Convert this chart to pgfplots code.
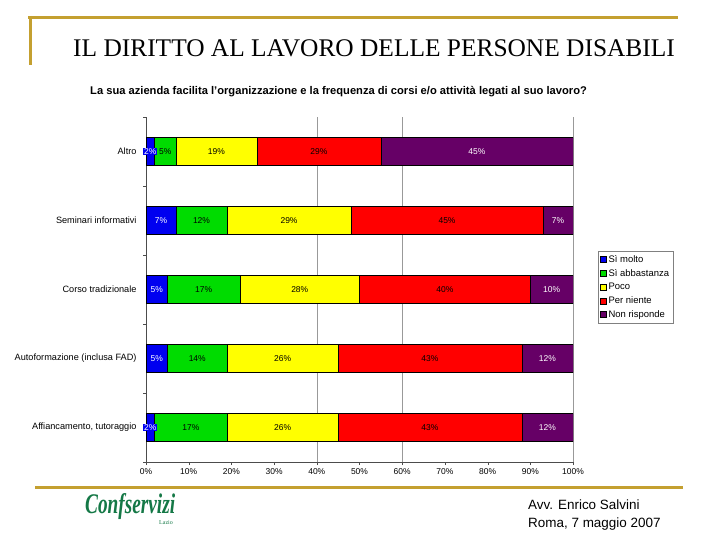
\documentclass[border=0pt]{standalone}
\usepackage{pgfplots}
\pgfplotsset{compat=1.18}
\usepackage{fontspec}
\setmainfont{Liberation Sans}
\newfontfamily\serifont{Liberation Serif}
\definecolor{gold}{RGB}{196,160,48}
\definecolor{cblue}{RGB}{0,0,240}
\definecolor{cgreen}{RGB}{0,220,0}
\definecolor{cyellow}{RGB}{255,255,0}
\definecolor{cred}{RGB}{255,0,0}
\definecolor{cpurple}{RGB}{102,0,102}
\definecolor{logogreen}{RGB}{20,120,70}
\begin{document}
\begin{tikzpicture}[x=1bp,y=1bp]
\path (0,0) rectangle (720,-540);
\draw[gold, line width=3bp] (28,-17.5) -- (678,-17.5);
\draw[gold, line width=3bp] (30,-16) -- (30,-65);
\draw[gold, line width=3bp] (35,-487) -- (683,-487);
\node[font=\serifont\fontsize{25.5}{30}\selectfont, anchor=base west, inner sep=0] at (73,-57) {IL DIRITTO AL LAVORO DELLE PERSONE DISABILI};
\node[font=\bfseries\fontsize{11.2}{13}\selectfont, anchor=base west, inner sep=0] at (90,-95) {La sua azienda facilita l'organizzazione e la frequenza di corsi e/o attività legati al suo lavoro?};
\node[font=\fontsize{13.5}{16}\selectfont, anchor=base west, inner sep=0] at (528,-509) {Avv. Enrico Salvini};
\node[font=\fontsize{13.5}{16}\selectfont, anchor=base west, inner sep=0] at (528,-527) {Roma, 7 maggio 2007};
\node[anchor=west, inner sep=0, text=logogreen] at (85,-507) {\resizebox{90bp}{20bp}{\serifont\bfseries\itshape Confservizi}};
\node[anchor=base, inner sep=0, text=logogreen, font=\serifont\fontsize{6}{7}\selectfont] at (166,-524) {Lazio};
\begin{axis}[
  at={(146bp,-462bp)}, anchor=south west,
  scale only axis, width=427bp, height=345bp,
  xbar stacked, bar width=28bp,
  xmin=0, xmax=100, ymin=-0.5, ymax=4.5,
  /pgf/number format/assume math mode=true,
  xtick={0,10,...,100},
  xticklabel={\pgfmathprintnumber{\tick}\%},
  xticklabel style={font=\fontsize{8.5}{10}\selectfont},
  ytick={-0.5,0.5,1.5,2.5,3.5,4.5},
  yticklabels={},
  extra y ticks={0,1,2,3,4},
  extra y tick labels={{Affiancamento, tutoraggio},{Autoformazione (inclusa FAD)},{Corso tradizionale},{Seminari informativi},{Altro}},
  extra y tick style={major tick length=0pt, yticklabel style={font=\fontsize{9.2}{10}\selectfont, xshift=-6bp}},
  extra x ticks={40,60,100},
  extra x tick labels={},
  extra x tick style={grid=major, major grid style={gray!80, line width=0.6pt}, major tick length=0pt},
  axis x line*=bottom, axis y line*=left,
  axis line style={gray!60!black, line width=0.6pt},
  tick align=outside, major tick length=3bp,
  tick style={gray!60!black},
  every axis plot/.append style={draw=black, line width=0.5pt,
    legend image code/.code={\draw[#1, draw=black, line width=0.4pt] (0bp,-3bp) rectangle (6bp,3bp);}},
  legend style={at={(1.0585,0.6116)}, anchor=north west, draw=gray, font=\fontsize{9.5}{10.5}\selectfont, row sep=1.5bp, inner sep=2bp, legend cell align=left},
  point meta=rawx,
  nodes near coords={\pgfmathprintnumber{\pgfplotspointmeta}\%},
  every node near coord/.append style={anchor=center, font=\fontsize{8.5}{10}\selectfont, inner sep=1bp},
]
\addplot[fill=cblue, nodes near coords style={text=white, fill=cblue}] coordinates {(2,0) (5,1) (5,2) (7,3) (2,4)};
\addplot[fill=cgreen] coordinates {(17,0) (14,1) (17,2) (12,3) (5,4)};
\addplot[fill=cyellow] coordinates {(26,0) (26,1) (28,2) (29,3) (19,4)};
\addplot[fill=cred] coordinates {(43,0) (43,1) (40,2) (45,3) (29,4)};
\addplot[fill=cpurple, nodes near coords style={text=white}] coordinates {(12,0) (12,1) (10,2) (7,3) (45,4)};
\legend{Sì molto, Sì abbastanza, Poco, Per niente, Non risponde}
\end{axis}
\end{tikzpicture}
\end{document}
